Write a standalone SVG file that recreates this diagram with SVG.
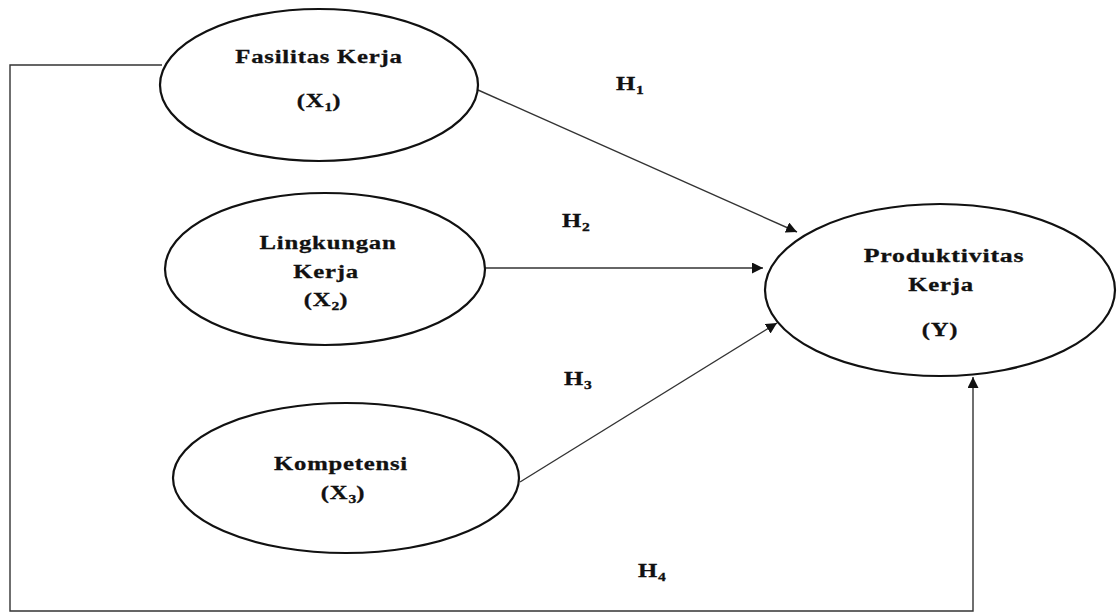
<svg xmlns="http://www.w3.org/2000/svg" width="1117" height="613" viewBox="0 0 1117 613">
<style>
.node{fill:#fff;stroke:#111;stroke-width:2.2}
.t{font-family:"Liberation Serif",serif;font-weight:bold;font-size:19px;letter-spacing:0.6px;fill:#111;stroke:#111;stroke-width:0.3;text-anchor:middle}
.s{font-size:12px;letter-spacing:0}
.c{fill:none;stroke:#333;stroke-width:1.4}
</style>
<defs>
<marker id="ah" viewBox="0 0 10 10" refX="10" refY="5" markerWidth="11" markerHeight="11" markerUnits="userSpaceOnUse" orient="auto">
<path d="M0,0 L10,5 L0,10 Z" fill="#111"/>
</marker>
</defs>
<rect width="1117" height="613" fill="#fff"/>
<g id="connectors">
<line class="c" x1="478" y1="90" x2="797" y2="232" marker-end="url(#ah)"/>
<line class="c" x1="485" y1="268" x2="763" y2="268" marker-end="url(#ah)"/>
<line class="c" x1="520" y1="482" x2="777" y2="323" marker-end="url(#ah)"/>
<polyline class="c" points="162,65 10,65 10,611 973,611 973,377" marker-end="url(#ah)"/>
<text class="t" transform="matrix(1.3,0,0,1,630,90)">H<tspan class="s" dy="4">1</tspan></text>
<text class="t" transform="matrix(1.3,0,0,1,576,227)">H<tspan class="s" dy="4">2</tspan></text>
<text class="t" transform="matrix(1.3,0,0,1,578,385)">H<tspan class="s" dy="4">3</tspan></text>
<text class="t" transform="matrix(1.3,0,0,1,652,577)">H<tspan class="s" dy="4">4</tspan></text>
</g>
<g id="x1">
<ellipse class="node" cx="319" cy="85" rx="159" ry="76"/>
<text class="t" transform="matrix(1.3,0,0,1,319,63)">Fasilitas Kerja</text>
<text class="t" transform="matrix(1.3,0,0,1,319,107)">(X<tspan class="s" dy="4">1</tspan><tspan dy="-4">)</tspan></text>
</g>
<g id="x2">
<ellipse class="node" cx="325" cy="269" rx="160" ry="76"/>
<text class="t" transform="matrix(1.3,0,0,1,328,249)">Lingkungan</text>
<text class="t" transform="matrix(1.3,0,0,1,326,278)">Kerja</text>
<text class="t" transform="matrix(1.3,0,0,1,326,306)">(X<tspan class="s" dy="4">2</tspan><tspan dy="-4">)</tspan></text>
</g>
<g id="x3">
<ellipse class="node" cx="346" cy="478" rx="173" ry="75"/>
<text class="t" transform="matrix(1.3,0,0,1,341,470)">Kompetensi</text>
<text class="t" transform="matrix(1.3,0,0,1,343,499)">(X<tspan class="s" dy="4">3</tspan><tspan dy="-4">)</tspan></text>
</g>
<g id="y">
<ellipse class="node" cx="940" cy="290" rx="175" ry="86"/>
<text class="t" transform="matrix(1.36,0,0,1,944,262)">Produktivitas</text>
<text class="t" transform="matrix(1.3,0,0,1,941,291)">Kerja</text>
<text class="t" transform="matrix(1.3,0,0,1,940,336)">(Y)</text>
</g>
</svg>
